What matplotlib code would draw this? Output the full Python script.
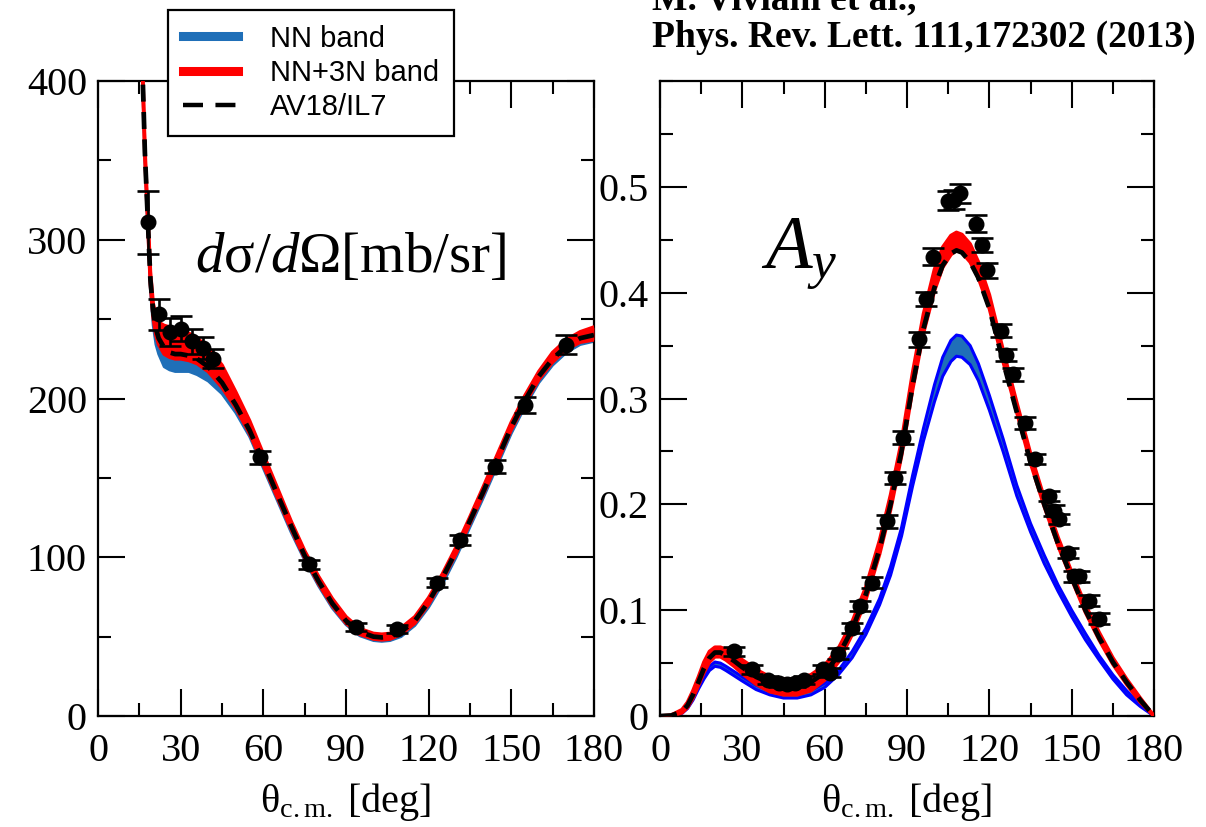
import matplotlib
matplotlib.use("Agg")
import matplotlib.pyplot as plt
from matplotlib.lines import Line2D
from matplotlib.ticker import MultipleLocator

plt.rcParams['font.family'] = ['Liberation Serif', 'DejaVu Serif']
plt.rcParams['mathtext.fontset'] = 'custom'
plt.rcParams['mathtext.rm'] = 'Liberation Serif'
plt.rcParams['mathtext.it'] = 'Liberation Serif:italic'
plt.rcParams['mathtext.bf'] = 'Liberation Serif:bold'

# ---------------- differential cross section ----------------
ds_grid = [16, 17, 18, 19, 20, 21, 22, 24, 26, 28, 30, 33, 36, 40, 45, 50, 55, 60, 65, 70,
           75, 80, 85, 90, 95, 100, 103, 106, 110, 115, 120, 125, 130, 135, 140, 145, 150,
           155, 160, 165, 170, 175, 180]
ds_av18 = [415, 355, 315, 275, 255, 244, 238, 232, 229, 228, 228, 227, 225, 220, 210, 196,
           180, 160, 140, 120, 101, 85, 71, 60, 53, 50, 49.5, 50, 53, 60, 72, 87, 104, 123,
           142, 162, 182, 199, 214, 225, 233, 238, 240]
ds_nn3n_lo = [413, 353, 312, 272, 251, 240, 234, 228, 226, 225, 225, 224, 222, 217, 207, 194,
              178, 158, 138, 118, 99.5, 83.5, 69.5, 58.5, 51.5, 48.5, 48, 48.5, 51.5, 58.5,
              70.5, 85.5, 102.5, 121.5, 140.5, 160.5, 180.5, 197, 212, 223, 231, 235.5, 237]
ds_nn3n_hi = [418, 358, 318, 280, 260, 252, 248, 246, 245, 244, 243, 241, 238, 232, 221, 204,
              186, 165, 144, 123, 104, 88, 74, 62.5, 55, 52, 51.5, 52, 55.5, 62.5, 74.5,
              89.5, 106.5, 125.5, 145, 165, 185, 202, 217, 229, 237, 242, 245]
ds_nn_lo = [410, 350, 308, 268, 246, 234, 228, 220, 218, 217, 217, 217, 215, 211, 203, 191,
            176, 156, 136, 116, 98, 82, 68, 57.5, 50.5, 47.5, 47, 47.5, 50, 57, 68.5, 83,
            100, 119, 138, 158, 178, 195, 210, 221, 229, 234, 236]
ds_nn_hi = [416, 356, 314, 276, 254, 242, 236, 229, 227, 226, 226, 225, 223, 218, 208, 195,
            179, 159, 139, 119, 100.5, 84.5, 70.5, 59.5, 52.5, 49.5, 49, 49.5, 52.5, 59.5,
            71.5, 86.5, 103.5, 122.5, 141.5, 161.5, 181.5, 198.5, 213.5, 224.5, 232.5, 237, 239]

ds_theta = [18.2, 22.1, 26.1, 30.0, 34.0, 38.0, 41.9, 58.9, 76.7, 93.6, 108.6, 123.1, 131.3,
            144.0, 154.9, 169.8]
ds_val = [311, 253, 242, 244, 236, 232, 225, 163, 95.5, 56, 55, 84, 111, 157, 196, 234]
ds_err = [20, 10, 9, 8, 8, 7, 6, 4, 3, 2.5, 2.5, 3, 3, 4, 5, 6]

# ---------------- analyzing power ----------------
ay_grid = [0, 4, 8, 10, 12, 14, 16, 18, 20, 22, 24, 27, 30, 35, 40, 45, 50, 55, 60, 65, 70,
           75, 80, 84, 88, 92, 96, 100, 103, 106, 108, 110, 113, 116, 120, 125, 130, 135,
           140, 145, 150, 155, 160, 165, 170, 175, 180]
ay_av18 = [0, 0.0005, 0.004, 0.010, 0.020, 0.032, 0.045, 0.055, 0.060, 0.060, 0.057, 0.052,
           0.046, 0.037, 0.031, 0.028, 0.028, 0.032, 0.041, 0.057, 0.082, 0.115, 0.158,
           0.200, 0.250, 0.312, 0.366, 0.405, 0.426, 0.437, 0.440, 0.438, 0.429, 0.414,
           0.385, 0.335, 0.287, 0.240, 0.200, 0.163, 0.131, 0.100, 0.074, 0.051, 0.032,
           0.015, 0.0]
ay_nn3n_lo = [0, 0.0003, 0.003, 0.008, 0.017, 0.029, 0.041, 0.051, 0.056, 0.056, 0.053,
              0.047, 0.040, 0.030, 0.023, 0.020, 0.020, 0.024, 0.034, 0.051, 0.077, 0.110,
              0.153, 0.195, 0.246, 0.308, 0.362, 0.402, 0.424, 0.436, 0.440, 0.438, 0.429,
              0.414, 0.385, 0.335, 0.287, 0.239, 0.198, 0.161, 0.129, 0.098, 0.072, 0.049,
              0.030, 0.013, 0]
ay_nn3n_hi = [0, 0.0008, 0.006, 0.013, 0.024, 0.037, 0.051, 0.061, 0.065, 0.065, 0.063,
              0.059, 0.053, 0.044, 0.037, 0.035, 0.035, 0.039, 0.048, 0.064, 0.089, 0.122,
              0.166, 0.209, 0.260, 0.324, 0.380, 0.422, 0.443, 0.454, 0.457, 0.455, 0.446,
              0.429, 0.398, 0.346, 0.296, 0.248, 0.206, 0.169, 0.136, 0.105, 0.079, 0.055,
              0.035, 0.017, 0]
ay_nn = [0, 0.0004, 0.003, 0.008, 0.016, 0.027, 0.037, 0.045, 0.049, 0.048, 0.045, 0.040,
         0.035, 0.027, 0.022, 0.019, 0.019, 0.022, 0.029, 0.041, 0.058, 0.080, 0.108, 0.137,
         0.174, 0.222, 0.266, 0.305, 0.330, 0.345, 0.350, 0.349, 0.341, 0.325, 0.296, 0.256,
         0.213, 0.178, 0.148, 0.121, 0.097, 0.075, 0.055, 0.037, 0.022, 0.010, 0]
ay_nn_hw = [0, 0, 0.0005, 0.001, 0.001, 0.0015, 0.002, 0.002, 0.002, 0.002, 0.002, 0.002,
            0.002, 0.002, 0.002, 0.002, 0.002, 0.002, 0.002, 0.002, 0.003, 0.003, 0.003,
            0.004, 0.004, 0.005, 0.006, 0.008, 0.009, 0.010, 0.010, 0.010, 0.009, 0.008,
            0.007, 0.006, 0.005, 0.004, 0.004, 0.003, 0.003, 0.003, 0.002, 0.002, 0.002,
            0.001, 0]

ay_theta = [27.1, 33.4, 39.5, 43.5, 46.2, 49.2, 52.5, 59.3, 62.0, 65.0, 69.9, 72.9, 77.3,
            82.8, 85.6, 88.7, 94.4, 96.8, 99.6, 105.1, 107.2, 109.3, 115.0, 117.2, 119.2,
            124.1, 126.1, 128.5, 132.9, 136.8, 141.8, 143.6, 145.2, 148.8, 150.7, 152.5,
            156.2, 159.8]
ay_val = [0.061, 0.044, 0.034, 0.031, 0.030, 0.031, 0.034, 0.044, 0.041, 0.059, 0.083, 0.104,
          0.126, 0.184, 0.225, 0.263, 0.356, 0.394, 0.434, 0.487, 0.488, 0.494, 0.465, 0.445,
          0.421, 0.364, 0.341, 0.323, 0.277, 0.243, 0.208, 0.194, 0.186, 0.154, 0.132, 0.132,
          0.109, 0.092]
ay_err = [0.004, 0.004, 0.004, 0.004, 0.004, 0.004, 0.004, 0.004, 0.004, 0.005, 0.005, 0.005,
          0.005, 0.006, 0.006, 0.006, 0.007, 0.007, 0.008, 0.009, 0.009, 0.009, 0.008, 0.007,
          0.007, 0.006, 0.006, 0.006, 0.006, 0.005, 0.005, 0.005, 0.005, 0.005, 0.005, 0.005,
          0.005, 0.005]

x_ticks = [0, 30, 60, 90, 120, 150, 180]

NN_FILL = '#1f6fb8'
NN3N_FILL = '#ff0000'
DASH = (3.6, 2.2)

fig = plt.figure(figsize=(12.06, 8.27), dpi=100)
ax1 = fig.add_axes([0.0813, 0.1342, 0.4112, 0.7678])
ax2 = fig.add_axes([0.5473, 0.1342, 0.4096, 0.7678])


def style_axis(ax):
    for s in ax.spines.values():
        s.set_linewidth(1.6)
    ax.set_xlim(0, 180)
    ax.set_xticks(x_ticks)
    ax.xaxis.set_minor_locator(MultipleLocator(15))
    ax.tick_params(which='both', direction='in', top=True, right=True, width=1.5,
                   labelsize=29, colors='black')
    ax.tick_params(which='major', length=19.5)
    ax.tick_params(which='minor', length=9.5)
    ax.tick_params(axis='x', which='major', pad=12)
    ax.tick_params(axis='y', which='major', pad=8)
    ax.set_xlabel(r'$\mathrm{\theta_{c.m.}}$ [deg]', fontsize=29, labelpad=8)


def draw_band(ax, x, lo, hi, color, edge_color, edge_lw, z):
    ax.fill_between(x, lo, hi, color=color, lw=0, zorder=z)
    ax.plot(x, lo, color=edge_color, lw=edge_lw, zorder=z, solid_joinstyle='round')
    ax.plot(x, hi, color=edge_color, lw=edge_lw, zorder=z, solid_joinstyle='round')


def draw_points(ax, x, y, e):
    ax.errorbar(x, y, yerr=e, fmt='o', color='black', ms=10.5, elinewidth=1.9,
                capsize=8, capthick=1.9, zorder=6)


# left panel: cross section
draw_band(ax1, ds_grid, ds_nn_lo, ds_nn_hi, NN_FILL, NN_FILL, 2.0, 2)
draw_band(ax1, ds_grid, ds_nn3n_lo, ds_nn3n_hi, NN3N_FILL, NN3N_FILL, 2.6, 3)
ax1.plot(ds_grid, ds_av18, color='black', lw=3.4, dashes=DASH, zorder=4)
draw_points(ax1, ds_theta, ds_val, ds_err)
style_axis(ax1)
ax1.set_ylim(0, 400)
ax1.set_yticks([0, 100, 200, 300, 400])
ax1.yaxis.set_minor_locator(MultipleLocator(50))
ax1.text(0.196, 0.70, r'$\mathit{d}\mathrm{\sigma}/\mathit{d}\mathrm{\Omega}$[mb/sr]',
         transform=ax1.transAxes, fontsize=41)

# right panel: analyzing power
ay_nn_lo = [c - h for c, h in zip(ay_nn, ay_nn_hw)]
ay_nn_hi = [c + h for c, h in zip(ay_nn, ay_nn_hw)]
draw_band(ax2, ay_grid, ay_nn_lo, ay_nn_hi, NN_FILL, '#0000ff', 2.2, 2)
draw_band(ax2, ay_grid, ay_nn3n_lo, ay_nn3n_hi, NN3N_FILL, NN3N_FILL, 2.6, 3)
ax2.plot(ay_grid, ay_av18, color='black', lw=3.4, dashes=DASH, zorder=4)
draw_points(ax2, ay_theta, ay_val, ay_err)
style_axis(ax2)
ax2.set_ylim(0, 0.6)
ax2.set_yticks([0, 0.1, 0.2, 0.3, 0.4, 0.5])
ax2.set_yticklabels(['0', '0.1', '0.2', '0.3', '0.4', '0.5'])
ax2.yaxis.set_minor_locator(MultipleLocator(0.05))
ax2.text(0.205, 0.705, r'$\mathit{A_y}$', transform=ax2.transAxes, fontsize=55)

# legend
handles = [Line2D([], [], color=NN_FILL, lw=6.5),
           Line2D([], [], color=NN3N_FILL, lw=6.5),
           Line2D([], [], color='black', lw=3.2, dashes=(4.5, 2.8))]
labels = ['NN band', 'NN+3N band', 'AV18/IL7']
leg = fig.legend(handles, labels, loc='upper left',
                 bbox_to_anchor=(168 / 1206, 1 - 10 / 827),
                 prop={'family': 'Liberation Sans', 'size': 21},
                 frameon=True, fancybox=False, edgecolor='black', framealpha=1,
                 handlelength=1.9, handletextpad=1.1, labelspacing=0.22,
                 borderpad=0.5, borderaxespad=0)
leg.get_frame().set_linewidth(1.6)
leg.set_zorder(10)

# reference
fig.text(652 / 1206, 1 - 9 / 827, 'M. Viviani et al.,', fontsize=27, fontweight='bold',
         va='baseline', ha='left')
fig.text(652 / 1206, 1 - 47 / 827, 'Phys. Rev. Lett. 111,172302 (2013)', fontsize=27,
         fontweight='bold', va='baseline', ha='left')

fig.savefig('out.png', dpi=100)
